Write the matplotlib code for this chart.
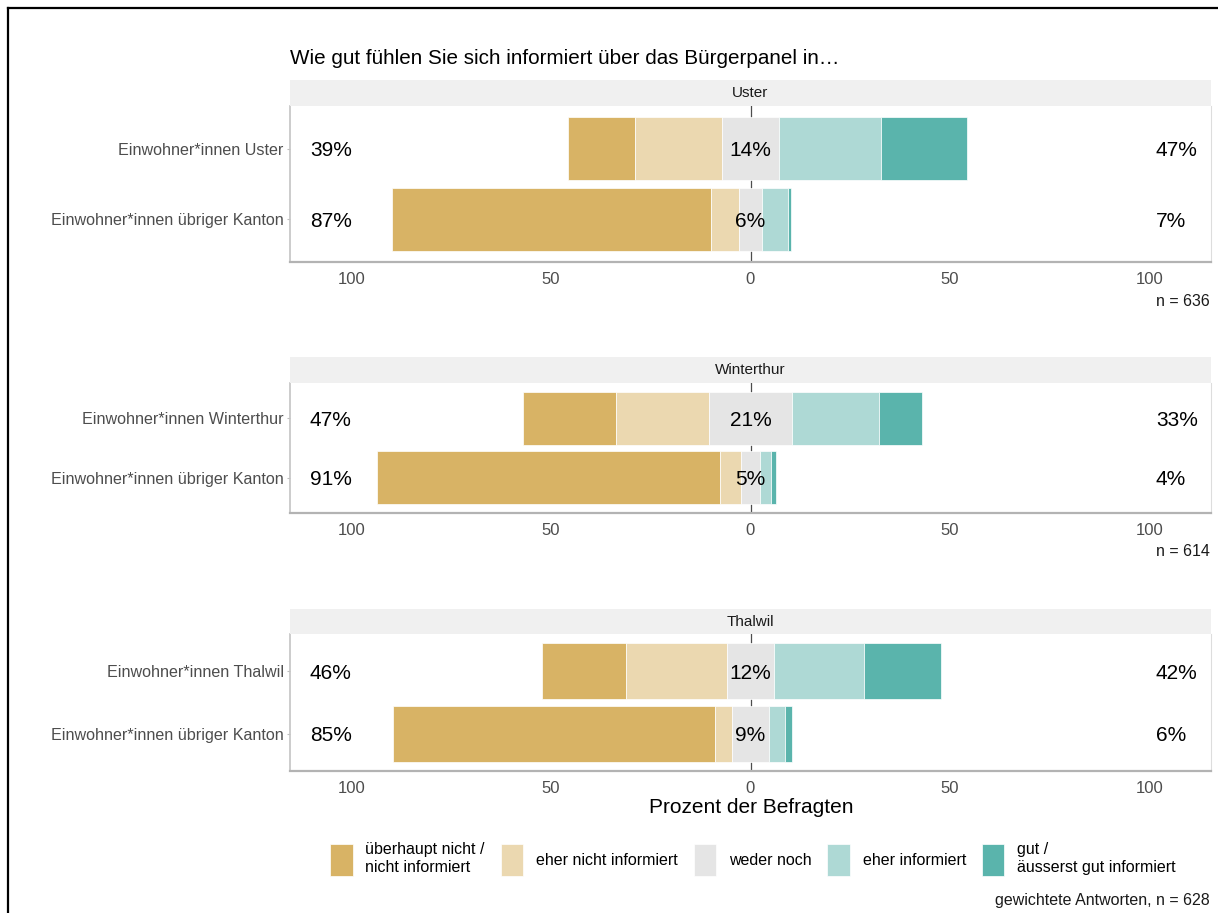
import matplotlib.pyplot as plt
from matplotlib.patches import Patch
from matplotlib.lines import Line2D

plt.rcParams['font.family'] = ['Liberation Sans', 'DejaVu Sans']

# Survey answers (percent of respondents), one row per group
levels = ['überhaupt nicht /\nnicht informiert', 'eher nicht informiert', 'weder noch',
          'eher informiert', 'gut /\näusserst gut informiert']
colors = ['#D8B365', '#EBD8B0', '#E5E5E5', '#AED9D5', '#5AB4AC']

regions = ['Uster', 'Winterthur', 'Thalwil']
groups = [['Einwohner*innen Uster', 'Einwohner*innen übriger Kanton'],
          ['Einwohner*innen Winterthur', 'Einwohner*innen übriger Kanton'],
          ['Einwohner*innen Thalwil', 'Einwohner*innen übriger Kanton']]
uster = [[16.9, 21.8, 14.2, 25.6, 21.5],
         [80.1, 6.9, 5.8, 6.6, 0.6]]
winterthur = [[23.2, 23.5, 20.6, 21.8, 10.9],
              [85.9, 5.3, 4.7, 2.7, 1.4]]
thalwil = [[21.0, 25.2, 12.0, 22.4, 19.4],
           [80.5, 4.3, 9.4, 4.0, 1.8]]
values = [uster, winterthur, thalwil]
sample_sizes = ['n = 636', 'n = 614', None]

xticks = [-100, -50, 0, 50, 100]
xticklabels = ['100', '50', '0', '50', '100']

W, H = 1218, 913
fig = plt.figure(figsize=(W / 100, H / 100), dpi=100)


def rect(x0, y0, x1, y1):
    return [x0 / W, 1 - y1 / H, (x1 - x0) / W, (y1 - y0) / H]


# pixel boxes of each facet: (strip top, panel top, panel bottom)
boxes = [(80, 106, 262), (357, 383, 513), (609, 634, 771)]
px_left, px_right = 290, 1211

for i, (region, labels, rows) in enumerate(zip(regions, groups, values)):
    strip_top, top, bottom = boxes[i]
    ax = fig.add_axes(rect(px_left, top, px_right, bottom))
    strip = fig.add_axes(rect(px_left, strip_top, px_right, top))
    strip.set_facecolor('#F0F0F0')
    strip.set_xticks([])
    strip.set_yticks([])
    for s in strip.spines.values():
        s.set_visible(False)
    strip.text(0.5, 0.5, region, ha='center', va='center', fontsize=11, color='#1A1A1A',
               transform=strip.transAxes)

    ypos = [1, 2]
    for y, row in zip(ypos, rows):
        low = row[0] + row[1]
        mid = row[2]
        high = row[3] + row[4]
        start = -(low + mid / 2)
        for v, c in zip(row, colors):
            ax.barh(y, v, left=start, height=0.9, color=c, edgecolor='white',
                    linewidth=0.5, zorder=2)
            start += v
        ax.text(-105.2, y, f'{low:.0f}%', ha='center', va='center_baseline', fontsize=15,
                color='black')
        ax.text(0, y, f'{mid:.0f}%', ha='center', va='center_baseline', fontsize=15,
                color='black', zorder=3)
        ax.text(101.6, y, f'{high:.0f}%', ha='left', va='center_baseline', fontsize=15,
                color='black')

    ax.axvline(0, color='#4D4D4D', lw=0.9, zorder=1)
    ax.set_xlim(-115.4, 115.4)
    ax.set_ylim(2.6, 0.4)
    ax.set_yticks(ypos)
    ax.set_yticklabels(labels)
    ax.set_xticks(xticks)
    ax.set_xticklabels(xticklabels)
    ax.tick_params(axis='x', length=0, pad=7.5, labelsize=12, labelcolor='#4D4D4D')
    ax.tick_params(axis='y', length=2.5, width=0.8, color='#BEBEBE', pad=2,
                   labelsize=11.6, labelcolor='#4D4D4D')
    ax.spines['top'].set_visible(False)
    ax.spines['left'].set_color('#C4C4C4')
    ax.spines['left'].set_linewidth(1.2)
    ax.spines['right'].set_color('#DDDDDD')
    ax.spines['right'].set_linewidth(0.8)
    ax.spines['bottom'].set_color('#B3B3B3')
    ax.spines['bottom'].set_linewidth(1.6)

    if sample_sizes[i]:
        fig.text(1210 / W, 1 - (bottom + 39) / H, sample_sizes[i], ha='right', va='center',
                 fontsize=11.5, color='#1A1A1A')

fig.text(290 / W, 1 - 58 / H, 'Wie gut fühlen Sie sich informiert über das Bürgerpanel in…',
         ha='left', va='center', fontsize=14.9, color='black')
fig.text(751 / W, 1 - 807 / H, 'Prozent der Befragten', ha='center', va='center',
         fontsize=15, color='black')

handles = [Patch(facecolor=c, edgecolor='white', linewidth=0.5) for c in colors]
fig.legend(handles, levels, loc='center', bbox_to_anchor=(753 / W, 1 - 859 / H), ncol=5,
           frameon=False, fontsize=11.5, handlelength=1.4, handleheight=2.7,
           handletextpad=0.8, columnspacing=1.0)

fig.text(1210 / W, 1 - 900 / H, 'gewichtete Antworten, n = 628', ha='right', va='center',
         fontsize=11.5, color='#1A1A1A')

# black frame around the graphic (top and left edges)
fig.add_artist(Line2D([8 / W, 8 / W], [0, 1 - 8 / H], color='black', lw=1.6,
                      transform=fig.transFigure))
fig.add_artist(Line2D([8 / W, 1], [1 - 8 / H, 1 - 8 / H], color='black', lw=1.6,
                      transform=fig.transFigure))

fig.savefig('out.png', dpi=100)
